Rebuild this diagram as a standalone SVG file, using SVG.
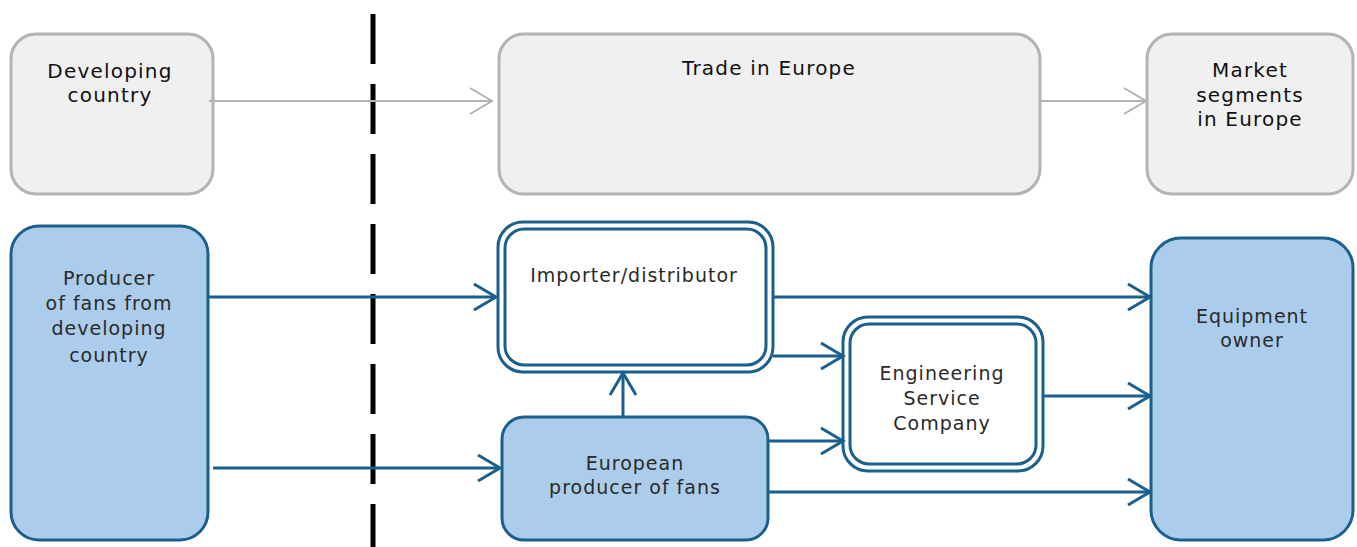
<svg xmlns="http://www.w3.org/2000/svg" width="1357" height="547" viewBox="0 0 1357 547">
<style>
text{font-family:"DejaVu Sans","Liberation Sans",sans-serif;text-anchor:middle}
.g{fill:#f0f0f0;stroke:#b3b3b3;stroke-width:3}
.b{fill:#abcdeb;stroke:#1b5f8c;stroke-width:3}
.w{fill:#ffffff;stroke:#1b5f8c;stroke-width:3}
.tg{fill:#111;font-size:20px;letter-spacing:1.2px}
.tb{fill:#2a2a2a;font-size:19px;letter-spacing:1px}
.cg{stroke:#b3b3b3;stroke-width:2;fill:none}
.cb{stroke:#1b5f8c;stroke-width:3;fill:none}
</style>
<defs>
<marker id="ag" markerUnits="userSpaceOnUse" markerWidth="30" markerHeight="30" refX="23" refY="14" orient="auto" overflow="visible">
<path d="M1,1 L23,14 L1,27" fill="none" stroke="#b3b3b3" stroke-width="2"/>
</marker>
<marker id="ab" markerUnits="userSpaceOnUse" markerWidth="30" markerHeight="30" refX="23" refY="14" orient="auto" overflow="visible">
<path d="M1,1 L23,14 L1,27" fill="none" stroke="#1b5f8c" stroke-width="3"/>
</marker>
</defs>
<line x1="373" y1="14" x2="373" y2="547" stroke="#000" stroke-width="5" stroke-dasharray="50 20"/>
<g id="developing-country">
<rect class="g" x="11" y="34" width="202" height="160" rx="25"/>
<text class="tg" x="110" y="78">Developing</text>
<text class="tg" x="110" y="102">country</text>
</g>
<g id="trade-in-europe">
<rect class="g" x="499" y="34" width="541" height="160" rx="25"/>
<text class="tg" x="769" y="75">Trade in Europe</text>
</g>
<g id="market-segments">
<rect class="g" x="1147" y="34" width="206" height="160" rx="25"/>
<text class="tg" x="1250" y="77">Market</text>
<text class="tg" x="1250" y="102">segments</text>
<text class="tg" x="1250" y="126">in Europe</text>
</g>
<g id="producer-developing">
<rect class="b" x="11" y="226" width="197" height="314" rx="28"/>
<text class="tb" x="109" y="285">Producer</text>
<text class="tb" x="109" y="310">of fans from</text>
<text class="tb" x="109" y="335">developing</text>
<text class="tb" x="109" y="362">country</text>
</g>
<g id="importer">
<rect class="w" x="498" y="222" width="275" height="150" rx="25"/>
<rect class="w" x="505" y="229" width="261" height="136" rx="19"/>
<text class="tb" x="634" y="282">Importer/distributor</text>
</g>
<g id="european-producer">
<rect class="b" x="502" y="417" width="266" height="123" rx="22"/>
<text class="tb" x="635" y="470">European</text>
<text class="tb" x="635" y="494">producer of fans</text>
</g>
<g id="engineering">
<rect class="w" x="843" y="317" width="200" height="154" rx="25"/>
<rect class="w" x="850" y="324" width="186" height="140" rx="19"/>
<text class="tb" x="942" y="380">Engineering</text>
<text class="tb" x="942" y="405">Service</text>
<text class="tb" x="942" y="430">Company</text>
</g>
<g id="equipment-owner">
<rect class="b" x="1151" y="238" width="202" height="302" rx="30"/>
<text class="tb" x="1252" y="323">Equipment</text>
<text class="tb" x="1252" y="347">owner</text>
</g>
<g id="connectors">
<line class="cg" x1="209" y1="101" x2="492" y2="101" marker-end="url(#ag)"/>
<line class="cg" x1="1040" y1="101" x2="1146" y2="101" marker-end="url(#ag)"/>
<line class="cb" x1="208" y1="297" x2="496" y2="297" marker-end="url(#ab)"/>
<line class="cb" x1="213" y1="468" x2="500" y2="468" marker-end="url(#ab)"/>
<line class="cb" x1="623" y1="416" x2="623" y2="373" marker-end="url(#ab)"/>
<line class="cb" x1="773" y1="297" x2="1150" y2="297" marker-end="url(#ab)"/>
<line class="cb" x1="773" y1="356" x2="843" y2="356" marker-end="url(#ab)"/>
<line class="cb" x1="768" y1="441" x2="843" y2="441" marker-end="url(#ab)"/>
<line class="cb" x1="1043" y1="396" x2="1150" y2="396" marker-end="url(#ab)"/>
<line class="cb" x1="768" y1="492" x2="1150" y2="492" marker-end="url(#ab)"/>
</g>
</svg>
